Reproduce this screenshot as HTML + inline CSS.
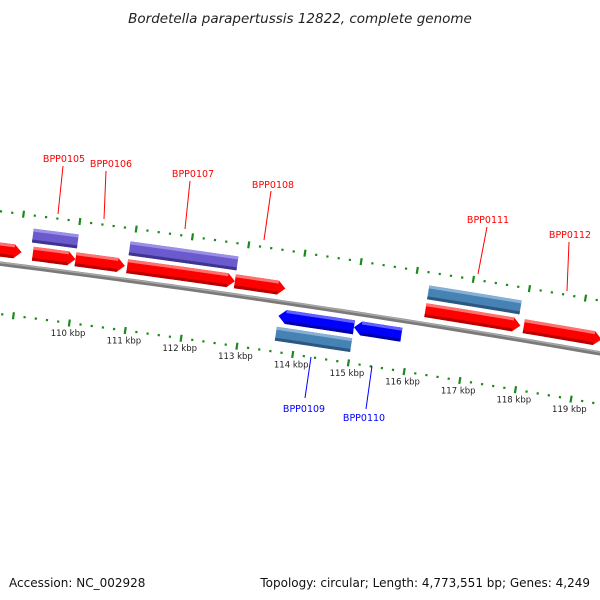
<!DOCTYPE html>
<html><head><meta charset="utf-8"><style>
html,body{margin:0;padding:0;background:#fff;}
svg{display:block;font-family:"DejaVu Sans","Liberation Sans",sans-serif;}
</style></head><body>
<svg id="map" width="600" height="600" viewBox="0 0 600 600" xmlns="http://www.w3.org/2000/svg">
<rect width="600" height="600" fill="#fff"/>
<text x="300" y="23" text-anchor="middle" font-size="13.5" font-style="italic" fill="#222">Bordetella parapertussis 12822, complete genome</text>
<g id="ticks"></g>
<g id="backbone"></g>
<g id="genes"></g>
<g id="labels"></g>
<text x="9" y="587" font-size="12" fill="#111">Accession: NC_002928</text>
<text x="590" y="587" text-anchor="end" font-size="12" fill="#111">Topology: circular; Length: 4,773,551 bp; Genes: 4,249</text>
</svg>
<script>
// ---- data ----
const geneStart  = [108.4, 109.2, 109.96, 110.88, 112.8, 116.2, 117.96, 109.16, 110.88, 116.2, 113.65, 115.0, 113.65];
const geneEnd    = [109.0, 109.96, 110.84, 112.8, 113.7, 117.9, 119.35, 109.96, 112.8, 117.85, 115.0, 115.85, 115.0];
const geneStrand = [1,1,1,1,1,1,1, 1,1,1, -1,-1,-1];
const geneTrack  = [1,1,1,1,1,1,1, 2,2,2, 1,1,2];
const geneKind   = ['red','red','red','red','red','red','red','purple','purple','steel','blue','blue','steel'];
const tickLabels = ['110 kbp','111 kbp','112 kbp','113 kbp','114 kbp','115 kbp','116 kbp','117 kbp','118 kbp','119 kbp'];
const tickValues = [110,111,112,113,114,115,116,117,118,119];
const geneNames  = ['BPP0105','BPP0106','BPP0107','BPP0108','BPP0111','BPP0112','BPP0109','BPP0110'];
const geneNameColor = ['red','red','red','red','red','red','blue','blue'];
const labelX = [64,111,193,273,488,570,304,364];
const labelY = [162,167,177,188,223,238,412,421];
const lineFrom = [[63,166],[106,171],[190,181],[271,191],[487,227],[569,242],[311,357],[372,366]];
const lineTo   = [[58,214],[104,219],[185,229],[264,240],[478,274],[567,291],[305,398],[366,409]];

// ---- geometry ----
const CX=-1651, CY=13360, R=13200;
const DEG=Math.PI/180;
function ang(k){ return 8.5*DEG + (k-114)*56.6/R; }
function pt(k,off){ const a=ang(k), r=R+off; return [CX+r*Math.sin(a), CY-r*Math.cos(a)]; }
const NS='http://www.w3.org/2000/svg';
function mk(tag,attrs,parent){const e=document.createElementNS(NS,tag);for(const k in attrs)e.setAttribute(k,attrs[k]);parent.appendChild(e);return e;}
function poly(ps){return ps.map(p=>p[0].toFixed(2)+','+p[1].toFixed(2)).join(' ');}
function arcPts(k1,k2,off,n){const a=[];for(let i=0;i<=n;i++)a.push(pt(k1+(k2-k1)*i/n,off));return a;}

// backbone
const bb=document.getElementById('backbone');
let p=mk('polyline',{points:poly(arcPts(107,121,0,60)),fill:'none',stroke:'#7a7a7a','stroke-width':4.5},bb);


p=mk('polyline',{points:poly(arcPts(107,121,1.2,60)),fill:'none',stroke:'#a8a8a8','stroke-width':1.5},bb);



// ticks
const tg=document.getElementById('ticks');
function tickRing(off,shift,name){
  for(let i=0;i<=70;i++){
    const k=107.8+i*0.2+shift;
    const major=Math.abs((k-shift)-Math.round(k-shift))<1e-6;
    const len=major?7:2.2;
    const a=pt(k,off-len/2), b=pt(k,off+len/2);
    const l=mk('line',{x1:a[0],y1:a[1],x2:b[0],y2:b[1],stroke:'#1a8a1a','stroke-width':2.2},tg);
    
    
  }
}
tickRing(52,-0.05,'outer');
tickRing(-50,0,'inner');
tickValues.forEach((v,i)=>{
  const q=pt(v,-60);
  const t=mk('text',{x:q[0],y:q[1]+3,'text-anchor':'middle','font-size':8.5,fill:'#222'},tg);
  t.textContent=tickLabels[i];
  
  
});

// genes
const palette={red:['#ff0000','#ff7070','#b80000'],purple:['#6a5acd','#9a8ee6','#3f3590'],steel:['#4682b4','#86b0d6','#2c5780'],blue:['#0000ff','#6060ff','#0000a8']};
const gg=document.getElementById('genes');
for(let i=0;i<geneStart.length;i++){
  const s=geneStart[i], e=geneEnd[i], st=geneStrand[i];
  const mid=(geneTrack[i]===1?14:32)*st;
  const rO=mid+7, rI=mid-7, h=0.13;
  const c=palette[geneKind[i]];
  const hasArrow=(geneTrack[i]===1);
  let shape;
  if(!hasArrow){ shape=arcPts(s,e,rO,6).concat(arcPts(e,s,rI,6)); }
  else if(st>0){ shape=arcPts(s,e-h,rO,6).concat([pt(e,mid)]).concat(arcPts(e-h,s,rI,6)); }
  else { shape=[pt(s,mid)].concat(arcPts(s+h,e,rO,6)).concat(arcPts(e,s+h,rI,6)); }
  const g=mk('g',{},gg);
  
  
  mk('polygon',{points:poly(shape),fill:c[0]},g);
  const a1=st>0?s:s+(hasArrow?h:0), a2=st>0?e-(hasArrow?h:0):e;
  const outer=Math.max(rO,rI), inner=Math.min(rO,rI);
  mk('polygon',{points:poly(arcPts(a1,a2,outer,6).concat(arcPts(a2,a1,outer-3,6))),fill:c[1]},g);
  mk('polygon',{points:poly(arcPts(a1,a2,inner+3,6).concat(arcPts(a2,a1,inner,6))),fill:c[2]},g);
}

// labels
const lg=document.getElementById('labels');
geneNames.forEach((n,i)=>{
  const col=geneNameColor[i]==='red'?'#ff0000':'#0000ff';
  const l=mk('line',{x1:lineFrom[i][0],y1:lineFrom[i][1],x2:lineTo[i][0],y2:lineTo[i][1],stroke:col,'stroke-width':1},lg);
  
  
  const t=mk('text',{x:labelX[i],y:labelY[i],'text-anchor':'middle','font-size':9.5,fill:col},lg);
  t.textContent=n;
  
  
});
</script>
</body></html>
